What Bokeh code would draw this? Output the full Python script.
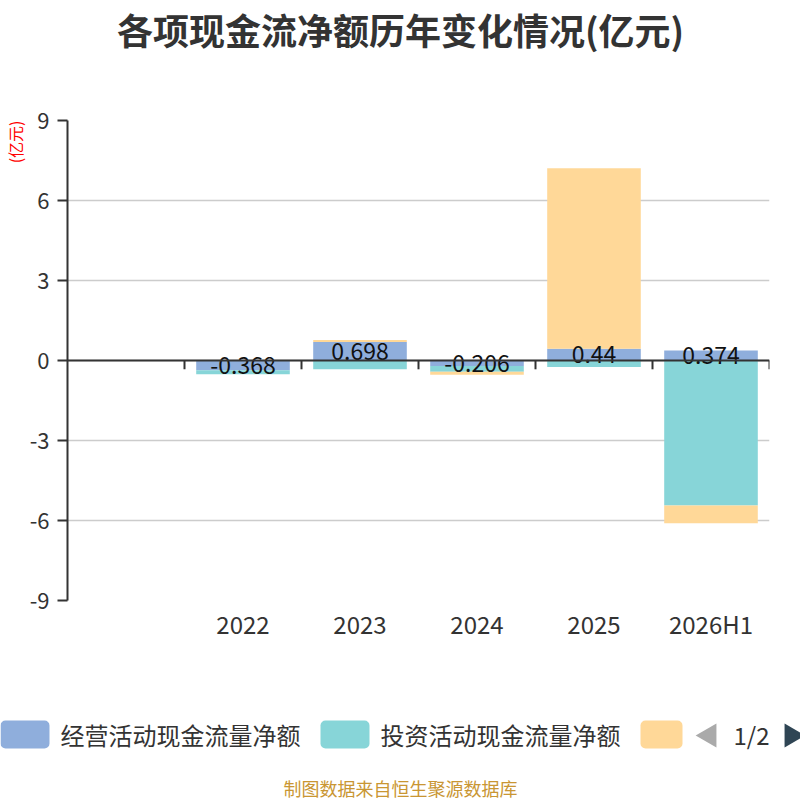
from math import pi
from bokeh.plotting import figure
from bokeh.models import (FactorRange, Range1d, FixedTicker, Span, Title, ColumnDataSource)
from bokeh.transform import dodge
from bokeh.embed import file_html
from bokeh.resources import INLINE
from bokeh.core.properties import value

# ---------------- data ----------------
categories = [" ", "2022", "2023", "2024", "2025", "2026H1"]
years = ["2022", "2023", "2024", "2025", "2026H1"]
operating = [-0.368, 0.698, -0.206, 0.44, 0.374]
investing = [-0.15, -0.33, -0.22, -0.24, -5.44]
financing = [0.02, 0.07, -0.11, 6.77, -0.66]
series_names = ["经营活动现金流量净额", "投资活动现金流量净额", "筹资活动现金流量净额"]
series_colors = ["#8FAEDC", "#87D5D8", "#FFD898"]
y_ticks = [-9, -6, -3, 0, 3, 6, 9]
title_text = "各项现金流净额历年变化情况(亿元)"
unit_text = "(亿元)"
source_text = "制图数据来自恒生聚源数据库"
page_text = "1/2"

FONT = "Noto Sans CJK SC"
W = 800
TOP_H, MAIN_H, BOT_H = 60, 600, 140


def bare(h):
    f = figure(width=W, height=h, x_range=Range1d(0, W), y_range=Range1d(0, h),
               x_axis_location=None, y_axis_location=None, output_backend="svg",
               toolbar_location=None, min_border=0)
    f.grid.grid_line_color = None
    f.outline_line_color = None
    f.background_fill_color = "white"
    f.border_fill_color = "white"
    return f


# ---------------- title strip ----------------
top = bare(TOP_H)
top.text(x=[W / 2], y=[TOP_H - 28], text=[title_text], text_align="center",
         text_baseline="middle", text_font=value(FONT), text_font_size="36px",
         text_font_style="bold", text_color="#333333")

# ---------------- main chart ----------------
p = figure(width=W, height=MAIN_H, x_range=FactorRange(factors=categories, range_padding=0),
           y_range=Range1d(-9, 9), output_backend="svg", toolbar_location=None,
           min_border_left=65, min_border_right=31, min_border_top=60,
           min_border_bottom=60)
p.outline_line_color = None
p.background_fill_color = "white"
p.border_fill_color = "white"

n = len(years)
pos = [0.0] * n
neg = [0.0] * n
for vals, col in zip([operating, investing, financing], series_colors):
    bottoms, tops = [], []
    for i, v in enumerate(vals):
        if v >= 0:
            b, t = pos[i], pos[i] + v
            pos[i] = t
        else:
            b, t = neg[i], neg[i] + v
            neg[i] = t
        bottoms.append(b)
        tops.append(t)
    src = ColumnDataSource(dict(x=years, bottom=bottoms, top=tops))
    p.vbar(x="x", bottom="bottom", top="top", width=0.8, source=src,
           fill_color=col, line_color=None)

p.add_layout(Span(location=0, dimension="width", line_color="#333333", line_width=2))
tick_src = ColumnDataSource(dict(x=categories, y0=[0] * len(categories),
                                 y1=[-0.33] * len(categories)))
p.segment(x0=dodge("x", 0.5, range=p.x_range), x1=dodge("x", 0.5, range=p.x_range),
          y0="y0", y1="y1", source=tick_src, line_color="#333333", line_width=2)

lab_src = ColumnDataSource(dict(x=years, y=[v / 2 for v in operating],
                                t=[str(v) for v in operating]))
p.text(x="x", y="y", text="t", source=lab_src, text_align="center",
       text_baseline="middle", text_font=value(FONT), text_font_size="23px",
       text_color="#111111")

p.yaxis.ticker = FixedTicker(ticks=y_ticks)
p.yaxis.major_label_overrides = {t: str(t) for t in y_ticks}
p.yaxis.axis_line_color = "#333333"
p.yaxis.axis_line_width = 2
p.yaxis.major_tick_line_color = "#333333"
p.yaxis.major_tick_line_width = 2
p.yaxis.major_tick_out = 10
p.yaxis.major_tick_in = 0
p.yaxis.minor_tick_line_color = None
p.yaxis.major_label_text_font = FONT
p.yaxis.major_label_text_font_size = "22px"
p.yaxis.major_label_text_color = "#333333"
p.yaxis.major_label_standoff = 8

p.xaxis.axis_line_color = None
p.xaxis.major_tick_line_color = None
p.xaxis.major_tick_out = 0
p.xaxis.major_tick_in = 0
p.xaxis.minor_tick_line_color = None
p.xaxis.major_label_text_font = FONT
p.xaxis.major_label_text_font_size = "24px"
p.xaxis.major_label_text_color = "#333333"
p.xaxis.major_label_standoff = 5

p.xgrid.grid_line_color = None
p.ygrid.ticker = FixedTicker(ticks=y_ticks)
p.ygrid.grid_line_color = "#cccccc"
p.ygrid.grid_line_width = 1.5

p.add_layout(Title(text=unit_text, align="right", text_font=FONT, text_font_size="16px",
                   text_font_style="normal", text_color="red", standoff=0,
                   offset=0), "left")

# ---------------- legend strip (page y 660..800) ----------------
bot = bare(BOT_H)
box_w = [49, 49, 42]
box_x0 = [0, 320, 640]
bot.quad(left=box_x0, right=[a + b for a, b in zip(box_x0, box_w)],
         top=[800 - 720] * 3, bottom=[800 - 748] * 3, fill_color=series_colors,
         line_color=None, border_radius=5)
bot.text(x=[x + 60 for x in box_x0[:2]], y=[800 - 734] * 2, text=series_names[:2],
         text_align="left", text_baseline="middle", text_font=value(FONT),
         text_font_size="24px", text_color="#333333")
bot.scatter(x=[709, 791], y=[800 - 735] * 2, marker="triangle", size=24,
            angle=[pi / 2, -pi / 2], fill_color=["#aaaaaa", "#2F4554"], line_color=None)
bot.text(x=[751], y=[800 - 734], text=[page_text], text_align="center",
         text_baseline="middle", text_font=value(FONT), text_font_size="24px",
         text_color="#333333")
bot.text(x=[W / 2], y=[800 - 787], text=[source_text], text_align="center",
         text_baseline="middle", text_font=value(FONT), text_font_size="18px",
         text_color="#C99633")

# separate roots: stacked on the page without frame alignment
open("out.html", "w").write(file_html([top, p, bot], INLINE))
